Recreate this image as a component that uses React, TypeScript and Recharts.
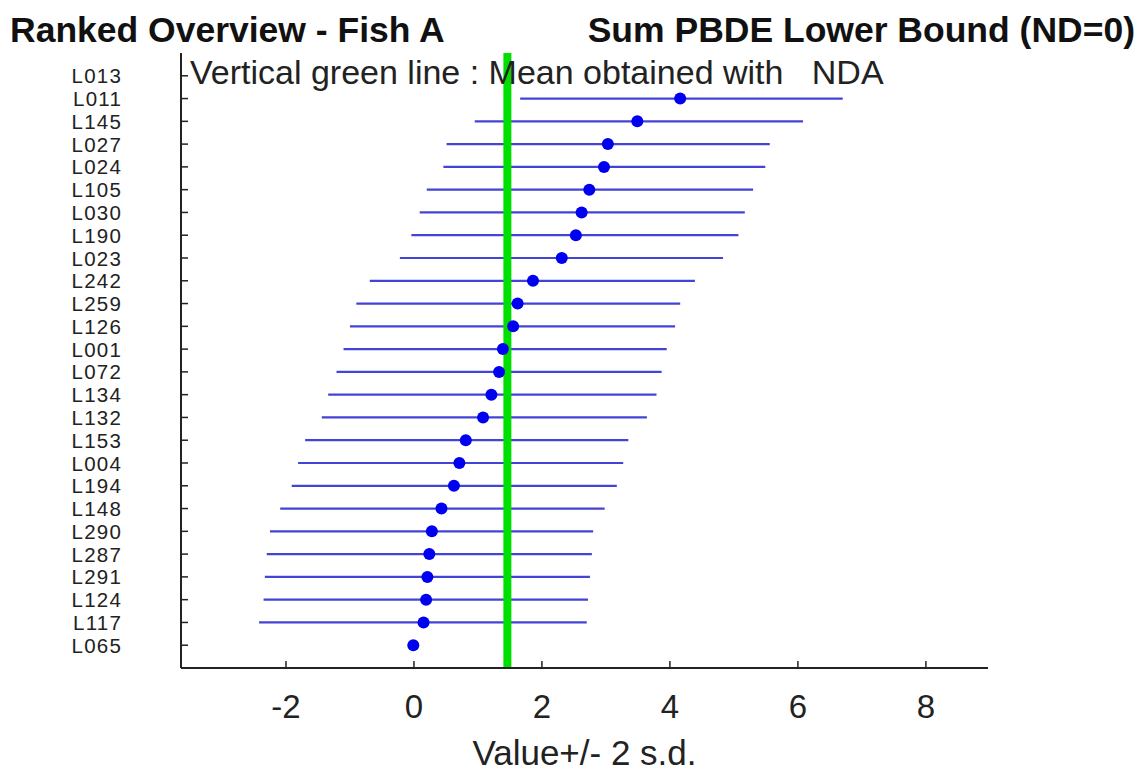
import React from 'react';
import { ComposedChart, Scatter, XAxis, YAxis, ErrorBar, ReferenceLine } from 'recharts';

// labs, top to bottom
const labs = [
  'L013', 'L011', 'L145', 'L027', 'L024', 'L105', 'L030', 'L190', 'L023', 'L242', 'L259', 'L126', 'L001',
  'L072', 'L134', 'L132', 'L153', 'L004', 'L194', 'L148', 'L290', 'L287', 'L291', 'L124', 'L117', 'L065',
];
const vals = [
  null, 4.16, 3.49, 3.03, 2.97, 2.74, 2.62, 2.53, 2.31, 1.86, 1.62, 1.55, 1.39,
  1.33, 1.21, 1.08, 0.81, 0.71, 0.625, 0.43, 0.28, 0.24, 0.21, 0.19, 0.15, -0.01,
];
const lows = [
  null, 1.66, 0.95, 0.51, 0.46, 0.2, 0.09, -0.04, -0.22, -0.69, -0.9, -1.0, -1.1,
  -1.21, -1.34, -1.44, -1.7, -1.81, -1.91, -2.09, -2.25, -2.3, -2.33, -2.35, -2.42, null,
];
const highs = [
  null, 6.7, 6.08, 5.56, 5.49, 5.3, 5.17, 5.07, 4.83, 4.39, 4.16, 4.08, 3.95,
  3.87, 3.79, 3.64, 3.35, 3.27, 3.17, 2.98, 2.8, 2.78, 2.75, 2.72, 2.7, null,
];
const meanNDA = 1.46;
const xTicks = [-2, 0, 2, 4, 6, 8];

const FONT = '"Liberation Sans", Arial, Helvetica, sans-serif';
const INK = '#222';

const rows = labs
  .map((lab, i) => ({
    lab,
    row: labs.length - i,
    value: vals[i],
    err: lows[i] == null || vals[i] == null ? [0, 0] : [vals[i]! - lows[i]!, highs[i]! - vals[i]!],
  }))
  .filter((r) => r.value != null);

const rowTicks = labs.map((_, i) => labs.length - i);

const YTick = (props: any) => {
  const { x, y, payload } = props;
  const lab = labs[labs.length - payload.value];
  return (
    <g>
      <line x1={x} y1={y} x2={x + 7} y2={y} stroke={INK} strokeWidth={1.5} />
      <text x={x - 59} y={y} dy={7.5} textAnchor="end" fontSize={20.5} letterSpacing={1.2} fontFamily={FONT} fill={INK}>
        {lab}
      </text>
    </g>
  );
};

const XTick = (props: any) => {
  const { x, y, payload } = props;
  return (
    <g>
      <line x1={x} y1={y} x2={x} y2={y - 7} stroke={INK} strokeWidth={1.5} />
      <text x={x} y={y} dy={50} textAnchor="middle" fontSize={33} fontFamily={FONT} fill={INK}>
        {payload.value}
      </text>
    </g>
  );
};

const Dot = (props: any) => <circle cx={props.cx} cy={props.cy} r={6} fill="#0000f0" />;

export default function App() {
  return (
    <div style={{ position: 'fixed', left: 0, top: 0, width: 1141, height: 775, background: '#fff' }}>
      <ComposedChart width={1141} height={775} margin={{ top: 53, right: 153, left: 0, bottom: 0 }} data={rows}>
        <XAxis
          type="number"
          dataKey="value"
          domain={[-3.64, 8.97]}
          ticks={xTicks}
          allowDataOverflow
          height={107}
          tickSize={0}
          tickMargin={0}
          tick={<XTick />}
          axisLine={{ stroke: INK, strokeWidth: 2 }}
        />
        <YAxis
          type="number"
          dataKey="row"
          domain={[0, 27]}
          ticks={rowTicks}
          interval={0}
          allowDataOverflow
          width={181}
          tickSize={0}
          tickMargin={0}
          tick={<YTick />}
          axisLine={{ stroke: INK, strokeWidth: 2 }}
        />
        <Scatter data={rows} dataKey="value" shape={<Dot />} isAnimationActive={false}>
          <ErrorBar dataKey="err" direction="x" width={0} stroke="#4343d6" strokeWidth={2.2} isAnimationActive={false} />
        </Scatter>
        <ReferenceLine x={meanNDA} stroke="#00e000" strokeWidth={8} />
      </ComposedChart>
      <svg width={1141} height={775} style={{ position: 'absolute', left: 0, top: 0, pointerEvents: 'none' }}>
        <text x={10} y={42} fontSize={35.5} fontWeight="bold" fontFamily={FONT} fill="#111">
          Ranked Overview - Fish A
        </text>
        <text x={1135} y={42} fontSize={35.5} fontWeight="bold" fontFamily={FONT} fill="#111" textAnchor="end">
          Sum PBDE Lower Bound (ND=0)
        </text>
        <text x={190} y={84} fontSize={34} fontFamily={FONT} fill={INK} style={{ whiteSpace: 'pre' }}>
          {'Vertical green line : Mean obtained with   NDA'}
        </text>
        <text x={584.5} y={765} fontSize={35} fontFamily={FONT} fill={INK} textAnchor="middle">
          Value+/- 2 s.d.
        </text>
      </svg>
    </div>
  );
}
